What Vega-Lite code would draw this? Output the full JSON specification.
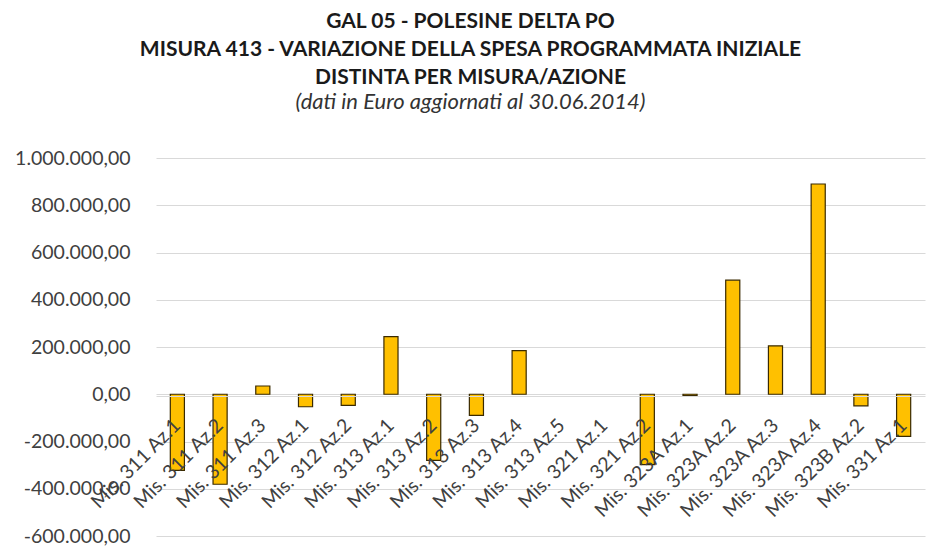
{
  "$schema": "https://vega.github.io/schema/vega-lite/v6.json",
  "autosize": "none",
  "width": 769,
  "height": 378,
  "padding": {"left": 156, "top": 158, "right": 13, "bottom": 10},
  "background": "#ffffff",
  "title": {
    "text": ["GAL 05 - POLESINE DELTA PO", "MISURA 413 - VARIAZIONE DELLA SPESA PROGRAMMATA INIZIALE", "DISTINTA PER MISURA/AZIONE"],
    "subtitle": "(dati in Euro aggiornati al 30.06.2014)",
    "anchor": "middle",
    "dx": -70,
    "offset": 35,
    "font": "Lato",
    "fontSize": 21,
    "fontWeight": "bold",
    "color": "#1a1a1a",
    "lineHeight": 28,
    "subtitleFont": "Lato",
    "subtitleFontSize": 22,
    "subtitleFontStyle": "italic",
    "subtitleColor": "#333333",
    "subtitlePadding": 4
  },
  "data": {
    "values": [
      {"azione": "Mis. 311 Az.1", "variazione": -322000},
      {"azione": "Mis. 311 Az.2", "variazione": -381000},
      {"azione": "Mis. 311 Az.3", "variazione": 35000},
      {"azione": "Mis. 312 Az.1", "variazione": -53000},
      {"azione": "Mis. 312 Az.2", "variazione": -47000},
      {"azione": "Mis. 313 Az.1", "variazione": 244000},
      {"azione": "Mis. 313 Az.2", "variazione": -280000},
      {"azione": "Mis. 313 Az.3", "variazione": -89000},
      {"azione": "Mis. 313 Az.4", "variazione": 185000},
      {"azione": "Mis. 313 Az.5", "variazione": 0},
      {"azione": "Mis. 321 Az.1", "variazione": 0},
      {"azione": "Mis. 321 Az.2", "variazione": -298000},
      {"azione": "Mis. 323A Az.1", "variazione": -6000},
      {"azione": "Mis. 323A Az.2", "variazione": 483000},
      {"azione": "Mis. 323A Az.3", "variazione": 205000},
      {"azione": "Mis. 323A Az.4", "variazione": 890000},
      {"azione": "Mis. 323B Az.2", "variazione": -49000},
      {"azione": "Mis. 331 Az.1", "variazione": -178000}
    ]
  },
  "mark": {"type": "bar", "color": "#FFC000", "strokeWidth": 1.2},
  "encoding": {
    "x": {
      "field": "azione",
      "type": "nominal",
      "sort": null,
      "scale": {"paddingInner": 0.67, "paddingOuter": 0.335},
      "axis": {
        "title": null,
        "offset": -140,
        "domain": true,
        "domainColor": "#d9d9d9",
        "ticks": false,
        "labelAngle": -45,
        "labelAlign": "right",
        "labelBaseline": "middle",
        "labelPadding": 26,
        "labelFont": "Lato",
        "labelFontSize": 19.5,
        "labelColor": "#404040",
        "zindex": 1
      }
    },
    "y": {
      "field": "variazione",
      "type": "quantitative",
      "scale": {"domain": [-600000, 1000000], "nice": false},
      "axis": {
        "title": null,
        "values": [-600000, -400000, -200000, 0, 200000, 400000, 600000, 800000, 1000000],
        "format": ",.2f",
        "domain": false,
        "ticks": false,
        "grid": true,
        "gridColor": "#d9d9d9",
        "gridWidth": 1,
        "labelPadding": 26,
        "labelFont": "Lato",
        "labelFontSize": 19.5,
        "labelColor": "#404040",
        "zindex": 0
      }
    },
    "stroke": {
      "condition": {"test": "datum.variazione === 0", "value": null},
      "value": "#3a2a00"
    }
  },
  "config": {
    "locale": {
      "number": {"decimal": ",", "thousands": ".", "grouping": [3], "currency": ["", " €"], "minus": "-"}
    },
    "view": {"stroke": null}
  }
}
